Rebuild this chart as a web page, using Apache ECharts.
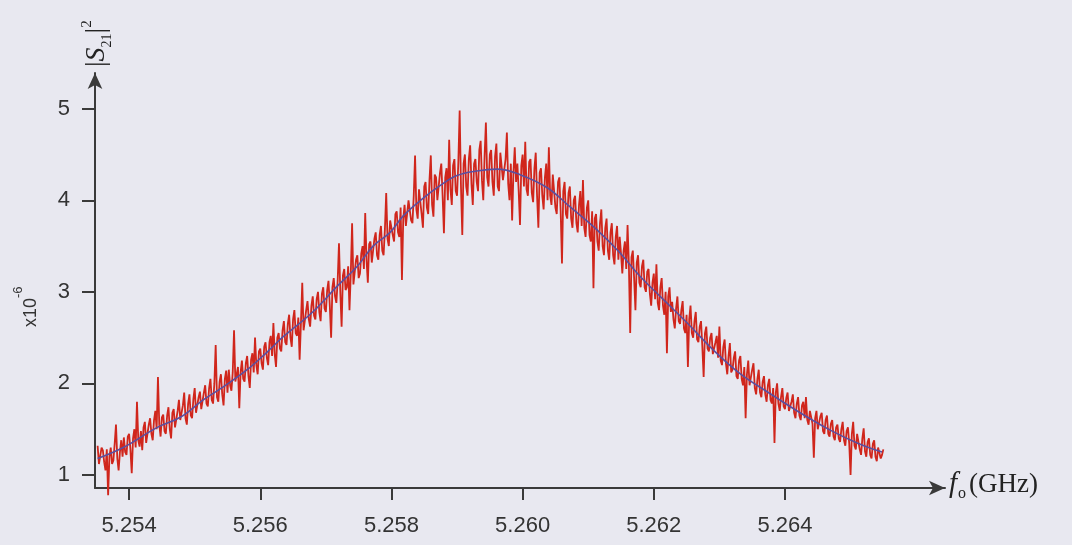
<!DOCTYPE html>
<html>
<head>
<meta charset="utf-8">
<script src="https://cdn.jsdelivr.net/npm/echarts@6/dist/echarts.min.js"></script>
<style>
html,body{margin:0;padding:0;background:#e8e8f0;}
#c{width:1072px;height:545px;}
</style>
</head>
<body>
<div id="c"></div>
<script>
// ---- data ----
const xTicks = [5.254, 5.256, 5.258, 5.260, 5.262, 5.264];
const yTicks = [1, 2, 3, 4, 5];
const freqStart = 5.25352;   // GHz, first sweep sample
const freqStep = 0.00002;    // GHz, sweep step
const measured = [
  1.32,1.12,1.10,1.30,1.27,1.14,1.05,1.28,0.78,1.20,1.30,1.12,1.16,1.34,1.55,1.18,1.05,1.25,1.38,1.20,
  1.41,1.25,1.22,1.42,1.45,1.28,1.02,1.40,1.50,1.30,1.80,1.38,1.31,1.48,1.27,1.52,1.58,1.35,1.36,1.55,
  1.62,1.45,1.38,1.60,1.70,1.50,2.07,1.55,1.42,1.63,1.66,1.48,1.45,1.65,1.74,1.50,1.40,1.68,1.72,1.52,
  1.50,1.70,1.82,1.60,1.58,1.76,1.90,1.62,1.55,1.78,1.88,1.65,1.62,1.83,1.95,1.68,1.66,1.85,1.91,1.72,
  1.70,1.90,1.98,1.78,1.75,1.95,2.05,1.82,1.78,2.00,2.42,1.85,1.80,2.02,2.10,1.88,1.76,2.05,2.14,1.90,
  2.15,1.98,1.92,2.12,2.58,2.02,2.00,2.18,1.73,2.12,2.25,2.05,2.02,2.22,2.30,2.08,1.95,2.26,2.33,2.12,
  2.50,2.20,2.10,2.35,2.38,2.22,2.15,2.40,2.45,2.28,2.20,2.45,2.52,2.30,2.66,2.32,2.18,2.50,2.55,2.38,
  2.35,2.58,2.68,2.45,2.42,2.65,2.75,2.50,2.40,2.70,2.80,2.55,2.52,2.72,2.26,2.66,3.10,2.58,2.60,2.80,
  2.90,2.70,2.62,2.85,2.95,2.74,2.70,2.92,3.00,2.78,2.68,2.98,3.05,2.82,2.78,3.02,3.12,2.85,2.50,3.05,
  3.15,2.95,2.88,3.12,3.53,3.00,2.62,3.18,3.25,3.02,3.05,3.28,2.80,3.20,3.75,3.08,3.10,3.35,3.40,3.15,
  3.20,3.42,3.50,3.25,3.86,3.35,3.10,3.52,3.55,3.32,3.30,3.58,3.65,3.40,3.35,3.62,3.72,3.45,3.40,3.68,
  4.08,3.58,3.50,3.78,3.80,3.62,3.55,3.85,3.88,3.65,3.60,3.92,3.13,3.80,3.95,3.72,3.70,4.00,4.02,3.78,
  3.75,4.05,4.49,3.90,3.80,4.12,4.10,3.85,3.70,4.15,4.20,3.92,3.85,4.22,4.49,3.95,3.82,4.28,4.25,4.00,
  4.00,4.30,4.40,4.05,3.64,4.25,4.35,4.00,4.66,4.12,3.95,4.38,4.45,4.10,4.05,4.42,4.98,4.15,3.62,4.40,
  4.50,4.15,4.05,4.45,4.60,4.18,3.95,4.40,4.45,4.20,4.10,4.55,4.65,4.22,4.00,4.48,4.85,4.25,4.15,4.50,
  4.55,4.20,4.05,4.48,4.62,4.15,4.10,4.52,4.50,4.22,4.20,4.45,4.74,4.18,4.00,4.40,3.78,4.30,4.58,4.20,
  4.40,4.10,3.73,4.38,4.50,4.15,4.64,4.12,4.05,4.42,4.45,4.08,3.98,4.35,4.52,4.05,3.70,4.30,4.35,4.05,
  3.90,4.25,4.40,4.00,4.58,4.05,3.95,4.28,4.30,3.92,3.85,4.20,4.25,3.88,3.31,4.10,4.20,3.85,3.80,4.08,
  4.15,3.80,3.70,4.00,4.05,3.75,3.65,3.95,4.10,3.72,4.22,3.70,3.60,3.92,4.00,3.62,3.55,3.88,3.04,3.80,
  3.85,3.55,3.45,3.75,3.90,3.50,3.40,3.70,3.80,3.45,3.35,3.65,3.75,3.40,3.30,3.60,3.72,3.35,3.60,3.42,
  3.20,3.45,3.55,3.25,3.73,3.30,2.55,3.38,3.45,3.15,2.80,3.32,3.40,3.10,3.05,3.28,3.35,3.05,3.00,3.22,
  3.25,2.98,2.85,3.10,3.20,2.92,3.30,2.88,2.80,3.05,3.15,2.85,2.75,3.00,2.33,2.95,3.05,2.78,2.89,2.70,
  2.60,2.82,2.95,2.68,2.65,2.80,2.90,2.60,2.55,2.75,2.18,2.70,2.85,2.55,2.50,2.68,2.78,2.48,2.45,2.62,
  2.68,2.40,2.07,2.55,2.62,2.38,2.35,2.50,2.55,2.32,2.30,2.45,2.52,2.28,2.62,2.25,2.20,2.40,2.48,2.22,
  2.10,2.30,2.44,2.12,2.15,2.28,2.35,2.08,2.05,2.25,2.30,2.05,1.98,2.18,1.62,2.10,2.25,1.98,2.00,2.15,
  2.22,1.95,1.88,2.05,2.15,1.90,1.85,2.02,2.08,1.88,1.80,1.98,2.05,1.82,1.78,1.95,1.35,1.90,2.00,1.78,
  1.70,1.85,1.95,1.75,1.72,1.84,1.90,1.70,1.68,1.80,1.88,1.68,1.62,1.78,1.85,1.65,1.60,1.76,1.80,1.62,
  1.85,1.60,1.55,1.70,1.72,1.56,1.19,1.62,1.70,1.50,1.52,1.64,1.68,1.48,1.45,1.60,1.65,1.45,1.42,1.56,
  1.60,1.42,1.38,1.52,1.55,1.40,1.36,1.50,1.58,1.38,1.32,1.48,1.52,1.34,1.00,1.45,1.58,1.32,1.28,1.45,
  1.45,1.28,1.22,1.40,1.51,1.26,1.20,1.36,1.40,1.22,1.18,1.34,1.38,1.20,1.15,1.30,1.32,1.18,1.22,1.28
];
const fitFreq = [5.25352,5.25391,5.25443,5.25478,5.25513,5.25543,5.25580,5.25610,5.25635,5.25680,
  5.25717,5.25748,5.25772,5.25798,5.25818,5.25848,5.25874,5.25900,5.25930,5.25961,
  5.25996,5.26037,5.26072,5.26113,5.26148,5.26179,5.26214,5.26251,5.26290,5.26331,
  5.26377,5.26423,5.26469,5.26510,5.26548];
const fitVal = [1.18,1.30,1.52,1.63,1.82,1.96,2.15,2.34,2.51,2.78,
  3.06,3.28,3.50,3.65,3.83,4.02,4.16,4.27,4.32,4.34,
  4.28,4.14,3.93,3.68,3.43,3.17,2.92,2.66,2.37,2.11,
  1.89,1.68,1.49,1.35,1.25];

const measuredData = measured.map((v, i) => [freqStart + i * freqStep, v]);
const fitData = fitFreq.map((f, i) => [f, fitVal[i]]);

const axisColor = '#3a3a3a';
const serif = 'Liberation Serif, Times New Roman, serif';
const sans = 'Liberation Sans, Arial, sans-serif';
const chart = echarts.init(document.getElementById('c'), null, {renderer: 'canvas'});
chart.setOption({
  backgroundColor: '#e8e8f0',
  animation: false,
  grid: {left: 95, right: 127, top: 73, bottom: 57, containLabel: false},
  xAxis: {
    type: 'value', min: 5.25348, max: 5.26644,
    axisLine: {show: true, lineStyle: {color: axisColor, width: 2}, symbol: ['none', 'arrow'], symbolSize: [11, 16]},
    axisTick: {show: true, inside: false, length: 12, lineStyle: {color: axisColor, width: 2}, customValues: xTicks},
    axisLabel: {show: true, margin: 27, fontSize: 22, color: '#333', fontFamily: sans,
      customValues: xTicks, formatter: v => v.toFixed(3)},
    splitLine: {show: false}
  },
  yAxis: {
    type: 'value', min: 0.858, max: 5.39,
    axisLine: {show: true, lineStyle: {color: axisColor, width: 2}, symbol: ['none', 'arrow'], symbolSize: [11, 16]},
    axisTick: {show: true, inside: false, length: 13, lineStyle: {color: axisColor, width: 2}, customValues: yTicks},
    axisLabel: {show: true, margin: 25, fontSize: 22, color: '#333', fontFamily: sans,
      customValues: yTicks},
    splitLine: {show: false}
  },
  series: [
    {type: 'line', data: measuredData, showSymbol: false, clip: false,
      lineStyle: {color: '#d0261c', width: 1.8}, z: 2},
    {type: 'line', data: fitData, showSymbol: false, smooth: 0.4, clip: false,
      lineStyle: {color: '#5a4fa0', width: 1.6}, z: 3}
  ],
  graphic: [
    {type: 'text', left: 949, top: 470,
      style: {text: '{f|f}{o|o}{n|(GHz)}', rich: {
        f: {fontFamily: serif, fontStyle: 'italic', fontSize: 29, fill: '#222', lineHeight: 34, verticalAlign: 'middle'},
        o: {fontFamily: serif, fontSize: 16, fill: '#222', lineHeight: 34, verticalAlign: 'bottom', padding: [0, 3, 0, 1]},
        n: {fontFamily: serif, fontSize: 27, fill: '#222', lineHeight: 34, verticalAlign: 'middle'}
      }}},
    {type: 'text', x: 80, y: 67, rotation: Math.PI / 2,
      style: {text: '{b||}{s|S}{d|21}{b||}{p|2}', rich: {
        b: {fontFamily: serif, fontSize: 28, fill: '#222', lineHeight: 34, verticalAlign: 'middle'},
        s: {fontFamily: serif, fontStyle: 'italic', fontSize: 28, fill: '#222', lineHeight: 34, verticalAlign: 'middle'},
        d: {fontFamily: serif, fontSize: 14, fill: '#222', lineHeight: 34, verticalAlign: 'bottom'},
        p: {fontFamily: serif, fontSize: 15, fill: '#222', lineHeight: 34, verticalAlign: 'top'}
      }}},
    {type: 'text', x: 12, y: 327, rotation: Math.PI / 2,
      style: {text: '{n|x10}{p|-6}', rich: {
        n: {fontFamily: sans, fontSize: 18, fill: '#333', lineHeight: 28, verticalAlign: 'bottom'},
        p: {fontFamily: sans, fontSize: 13, fill: '#333', lineHeight: 28, verticalAlign: 'top'}
      }}}
  ]
});
</script>
</body>
</html>
